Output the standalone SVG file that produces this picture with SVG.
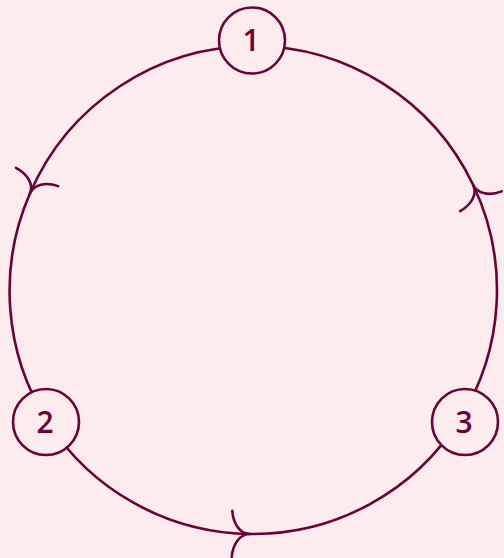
<svg xmlns="http://www.w3.org/2000/svg" width="504" height="558" viewBox="0 0 504 558">
<style>
.edge{fill:none;stroke:#6a0035;stroke-width:2.6;marker-mid:url(#tip)}
.node circle{fill:#fdecee;stroke:#6a0035;stroke-width:2.6}
.node text{font-family:"Open Sans","Liberation Sans",sans-serif;font-size:30px;font-weight:600;fill:#6a0035;text-anchor:middle}
</style>
<defs>
<marker id="tip" markerUnits="userSpaceOnUse" orient="auto" viewBox="-25 -30 30 60" refX="0" refY="0" markerWidth="30" markerHeight="60" overflow="visible">
<path d="M-18,-23 C-17,-10 -10,0 0,0 M-18,23 C-17,10 -10,0 0,0" fill="none" stroke="#6a0035" stroke-width="2.6" stroke-linecap="round"/>
</marker>
</defs>
<rect width="504" height="558" fill="#fdecee"/>
<g id="connectors">
<path id="e1-2" class="edge" d="M253,46 A244,244 0 0 0 29.9,193.5 A244,244 0 0 0 47.2,421.1"/>
<path id="e2-3" class="edge" d="M47.2,421.1 A244,244 0 0 0 250,534 A244,244 0 0 0 459.9,419.3"/>
<path id="e3-1" class="edge" d="M459.9,419.3 A244,244 0 0 0 473.2,185 A244,244 0 0 0 253,46"/>
</g>
<g id="n1" class="node"><circle cx="252" cy="40.5" r="33"/><text x="251" y="51">1</text></g>
<g id="n2" class="node"><circle cx="46" cy="422" r="33"/><text x="45" y="432.5">2</text></g>
<g id="n3" class="node"><circle cx="465" cy="422" r="33"/><text x="464" y="432.5">3</text></g>
</svg>
